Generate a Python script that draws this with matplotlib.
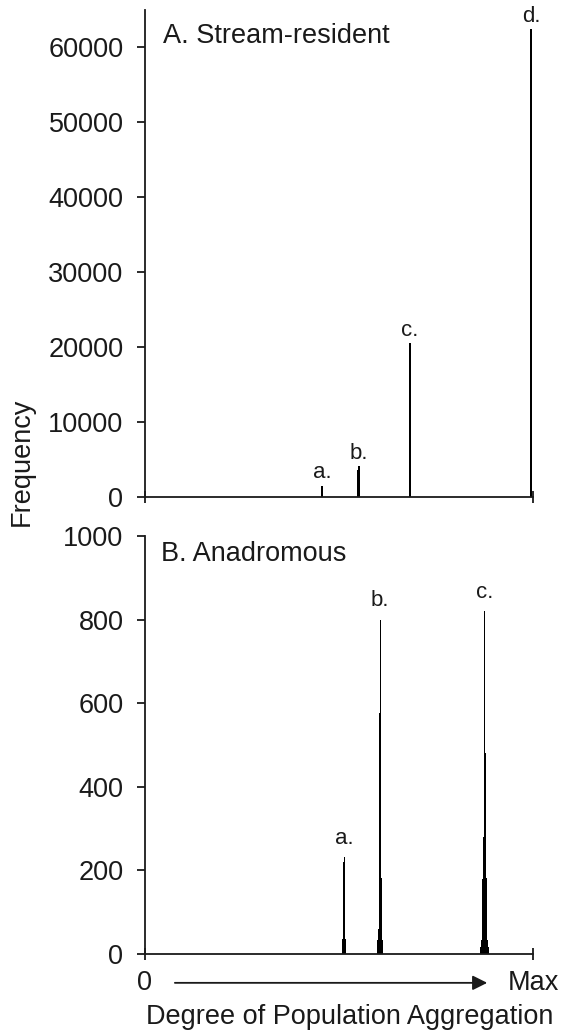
import matplotlib
matplotlib.use("Agg")
import matplotlib.pyplot as plt
from matplotlib.transforms import blended_transform_factory

plt.rcParams['font.family'] = ['Liberation Sans', 'DejaVu Sans']

# Panel A: stream-resident (x in fraction of max aggregation)
a_x = [0.456, 0.549, 0.552, 0.683, 0.995]
a_h = [1500, 3600, 4100, 20500, 62400]
a_labels = ['a.', 'b.', 'c.', 'd.']
a_label_x = [0.456, 0.552, 0.683, 0.995]
a_label_h = [1500, 4100, 20500, 62400]

# Panel B: anadromous
b_x = [0.509, 0.511, 0.513, 0.515, 0.517,
       0.600, 0.602, 0.604, 0.606, 0.608, 0.610, 0.612,
       0.866, 0.868, 0.870, 0.872, 0.874, 0.876, 0.878, 0.880, 0.882, 0.884]
b_h = [36, 220, 232, 146, 36,
       33, 60, 577, 800, 610, 182, 33,
       17, 33, 180, 280, 526, 820, 481, 182, 33, 17]
b_labels = ['a.', 'b.', 'c.']
b_label_x = [0.513, 0.606, 0.876]
b_label_h = [232, 800, 820]

a_yticks = [0, 10000, 20000, 30000, 40000, 50000, 60000]
b_yticks = [0, 200, 400, 600, 800, 1000]

W, H = 563, 1032
fig = plt.figure(figsize=(W / 100, H / 100), dpi=100)

left = 145 / W
width = 388 / W
axA = fig.add_axes([left, 1 - 497 / H, width, 487 / H])
axB = fig.add_axes([left, 1 - 954 / H, width, 418 / H])

FS = 19.5
LFS = 16
LW = 1.3
col = '#1a1a1a'

for ax in (axA, axB):
    for s in ('top', 'right'):
        ax.spines[s].set_visible(False)
    for s in ('left', 'bottom'):
        ax.spines[s].set_linewidth(LW)
        ax.spines[s].set_color(col)
    ax.set_xlim(0, 1)
    ax.set_xticks([0, 1])
    ax.set_xticklabels([])
    ax.tick_params(axis='x', direction='inout', length=9, width=LW, color=col)
    ax.tick_params(axis='y', direction='out', length=5.5, width=LW, color=col,
                   labelsize=FS, pad=10, labelcolor=col)

axA.bar(a_x, a_h, width=0.005, color='black', linewidth=0)
axA.set_ylim(0, 65000)
axA.set_yticks(a_yticks)
axA.set_yticklabels([str(v) for v in a_yticks])
for lab, x, h in zip(a_labels, a_label_x, a_label_h):
    axA.annotate(lab, (x, h), xytext=(0, 2), textcoords='offset points',
                 ha='center', va='bottom', fontsize=LFS, color=col)
axA.text(0.047, 0.947, 'A. Stream-resident', transform=axA.transAxes,
         fontsize=FS, ha='left', va='center', color=col)

axB.bar(b_x, b_h, width=0.0028, color='black', linewidth=0)
axB.set_ylim(0, 1000)
axB.set_yticks(b_yticks)
axB.set_yticklabels([str(v) for v in b_yticks])
for lab, x, h in zip(b_labels, b_label_x, b_label_h):
    axB.annotate(lab, (x, h), xytext=(0, 6), textcoords='offset points',
                 ha='center', va='bottom', fontsize=LFS, color=col)
axB.text(0.041, 0.957, 'B. Anadromous', transform=axB.transAxes,
         fontsize=FS, ha='left', va='center', color=col)

trans = blended_transform_factory(axB.transData, axB.transAxes)
axB.text(0.0, -0.069, '0', transform=trans, fontsize=FS, ha='center',
         va='center', color=col, clip_on=False)
axB.text(1.0, -0.069, 'Max', transform=trans, fontsize=FS, ha='center',
         va='center', color=col, clip_on=False)
axB.annotate('', xy=(0.882, -0.069), xytext=(0.077, -0.069),
             xycoords=trans, textcoords=trans,
             arrowprops=dict(arrowstyle='-|>', color=col, lw=1.3,
                             mutation_scale=22, shrinkA=0, shrinkB=0))

fig.text(350 / W, 1 - 1017 / H, 'Degree of Population Aggregation',
         fontsize=FS, ha='center', va='center', color=col)
fig.text(22 / W, 1 - 462 / H, 'Frequency', fontsize=FS, rotation=90,
         ha='center', va='center', color=col)

fig.savefig('out.png', dpi=100)
